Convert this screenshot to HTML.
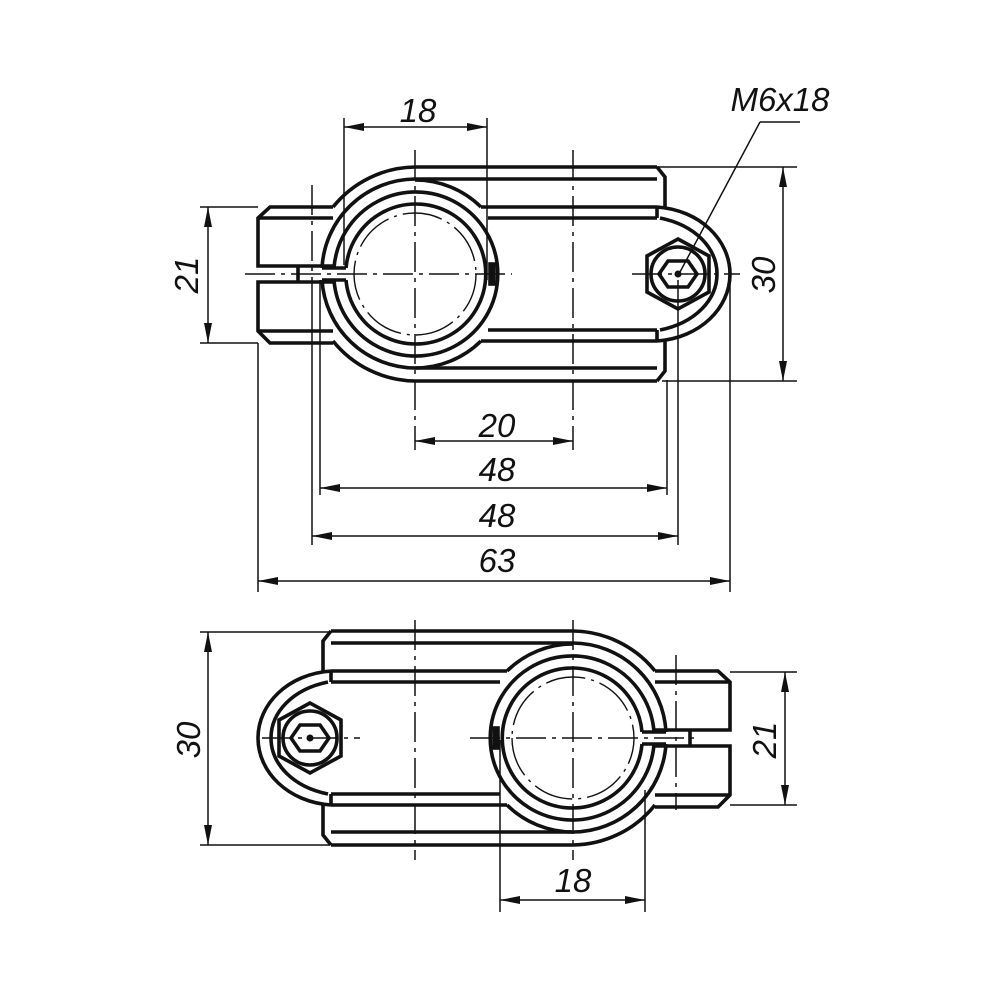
<!DOCTYPE html>
<html><head><meta charset="utf-8"><style>
html,body{margin:0;padding:0;background:#fff}
svg{display:block}
text{font-family:"Liberation Sans",Arial,sans-serif;font-style:italic;font-size:33px;fill:#111}
</style></head><body>
<svg width="1000" height="1000" viewBox="0 0 1000 1000" xmlns="http://www.w3.org/2000/svg">
<defs>
<marker id="a" viewBox="0 0 20 8" refX="20" refY="4" markerWidth="20" markerHeight="8" markerUnits="userSpaceOnUse" orient="auto-start-reverse"><path d="M0,0 L20,4 L0,8z" fill="#111"/></marker>
<g id="view" fill="none" stroke="#111">
  <g stroke-width="3.6">
    <path d="M657,167 H415 A107,107 0 0 0 333,207"/>
    <path d="M333,341 A107,107 0 0 0 415,381 H657"/>
    <path d="M657,167 L665,177 V207 M665,341 V371 L657,381"/>
    <path d="M657,179 H415 A94,94 0 0 0 322,268"/>
    <path d="M322,280 A94,94 0 0 0 415,368 H657"/>
    <path d="M481,207 A94,94 0 0 0 415,180"/>
    <path d="M481,341 A94,94 0 0 1 415,368"/>
    <path d="M334,268 A82,82 0 1 1 334,280"/>
    <path d="M346,268 A70,70 0 1 1 346,280"/>
    <path d="M322,268 H346 M322,280 H346"/>
    <path d="M481,207 H657 M488,218 H657 M481,341 H657 M488,330 H657"/>
    <path d="M657,207 C700,210 730,240 730,274 C730,308 700,338 657,341"/>
    <path d="M660,218 C695,225 717,248 717,274 C717,300 695,323 660,330"/>
    <path d="M657,207 V218 M657,330 V341"/>
    <path d="M333,207 H270 L258,218 V266 H333"/>
    <path d="M333,282 H258 V331 L270,343 H333"/>
    <path d="M258,218 H333 M258,331 H333"/>
    <path d="M298,266 V282"/>
    <polygon points="678,239 709,256 709,292 678,309 647,292 647,256"/>
    <circle cx="678" cy="274" r="27"/>
    <polygon points="668,261 688,261 697,274 688,287 668,287 659,274"/>
    <rect x="490" y="264" width="4" height="20" fill="#111"/>
  </g>
  <circle cx="678" cy="274" r="3" fill="#111"/>
  <circle cx="415" cy="274" r="61" stroke-width="1.4" stroke-dasharray="40 6 3 6"/>
</g>
</defs>

<use href="#view"/>
<use href="#view" transform="translate(988,464) scale(-1,1)"/>

<g fill="none" stroke="#111" stroke-width="1.5">
  <g stroke-dasharray="30 6 4 6">
    <path d="M245,274 H512 M632,274 H740"/>
    <path d="M415,150 V450 M573,150 V450 M312,185 V300"/>
    <path d="M470,738 H700 M262,738 H360"/>
    <path d="M415,620 V860 M573,620 V860 M676,655 V810"/>
  </g>
  <path d="M344,118 V265 M487,118 V280"/>
  <path d="M200,207 H258 M200,343 H258"/>
  <path d="M657,167 H797 M662,381 H797"/>
  <path d="M320,280 V495 M667,380 V495 M312,300 V545 M678,280 V545 M258,343 V592 M730,280 V592"/>
  <path d="M760,122 H800 M760,122 L680,272"/>
  <path d="M344,127 H487" marker-start="url(#a)" marker-end="url(#a)"/>
  <path d="M208,207 V343" marker-start="url(#a)" marker-end="url(#a)"/>
  <path d="M783,167 V381" marker-start="url(#a)" marker-end="url(#a)"/>
  <path d="M415,441 H573" marker-start="url(#a)" marker-end="url(#a)"/>
  <path d="M320,488 H667" marker-start="url(#a)" marker-end="url(#a)"/>
  <path d="M312,536 H678" marker-start="url(#a)" marker-end="url(#a)"/>
  <path d="M258,581 H730" marker-start="url(#a)" marker-end="url(#a)"/>
  <path d="M200,632 H330 M200,845 H330"/>
  <path d="M730,672 H797 M730,805 H797"/>
  <path d="M500,740 V912 M645,790 V912"/>
  <path d="M208,632 V845" marker-start="url(#a)" marker-end="url(#a)"/>
  <path d="M785,672 V805" marker-start="url(#a)" marker-end="url(#a)"/>
  <path d="M500,900 H645" marker-start="url(#a)" marker-end="url(#a)"/>
</g>

<text x="418" y="122" text-anchor="middle">18</text>
<text x="780" y="111" text-anchor="middle">M6x18</text>
<text transform="translate(198,275) rotate(-90)" text-anchor="middle">21</text>
<text transform="translate(775,275) rotate(-90)" text-anchor="middle">30</text>
<text x="497" y="437" text-anchor="middle">20</text>
<text x="497" y="481" text-anchor="middle">48</text>
<text x="497" y="527" text-anchor="middle">48</text>
<text x="497" y="572" text-anchor="middle">63</text>
<text transform="translate(200,740) rotate(-90)" text-anchor="middle">30</text>
<text transform="translate(776,740) rotate(-90)" text-anchor="middle">21</text>
<text x="573" y="892" text-anchor="middle">18</text>
</svg>
</body></html>
